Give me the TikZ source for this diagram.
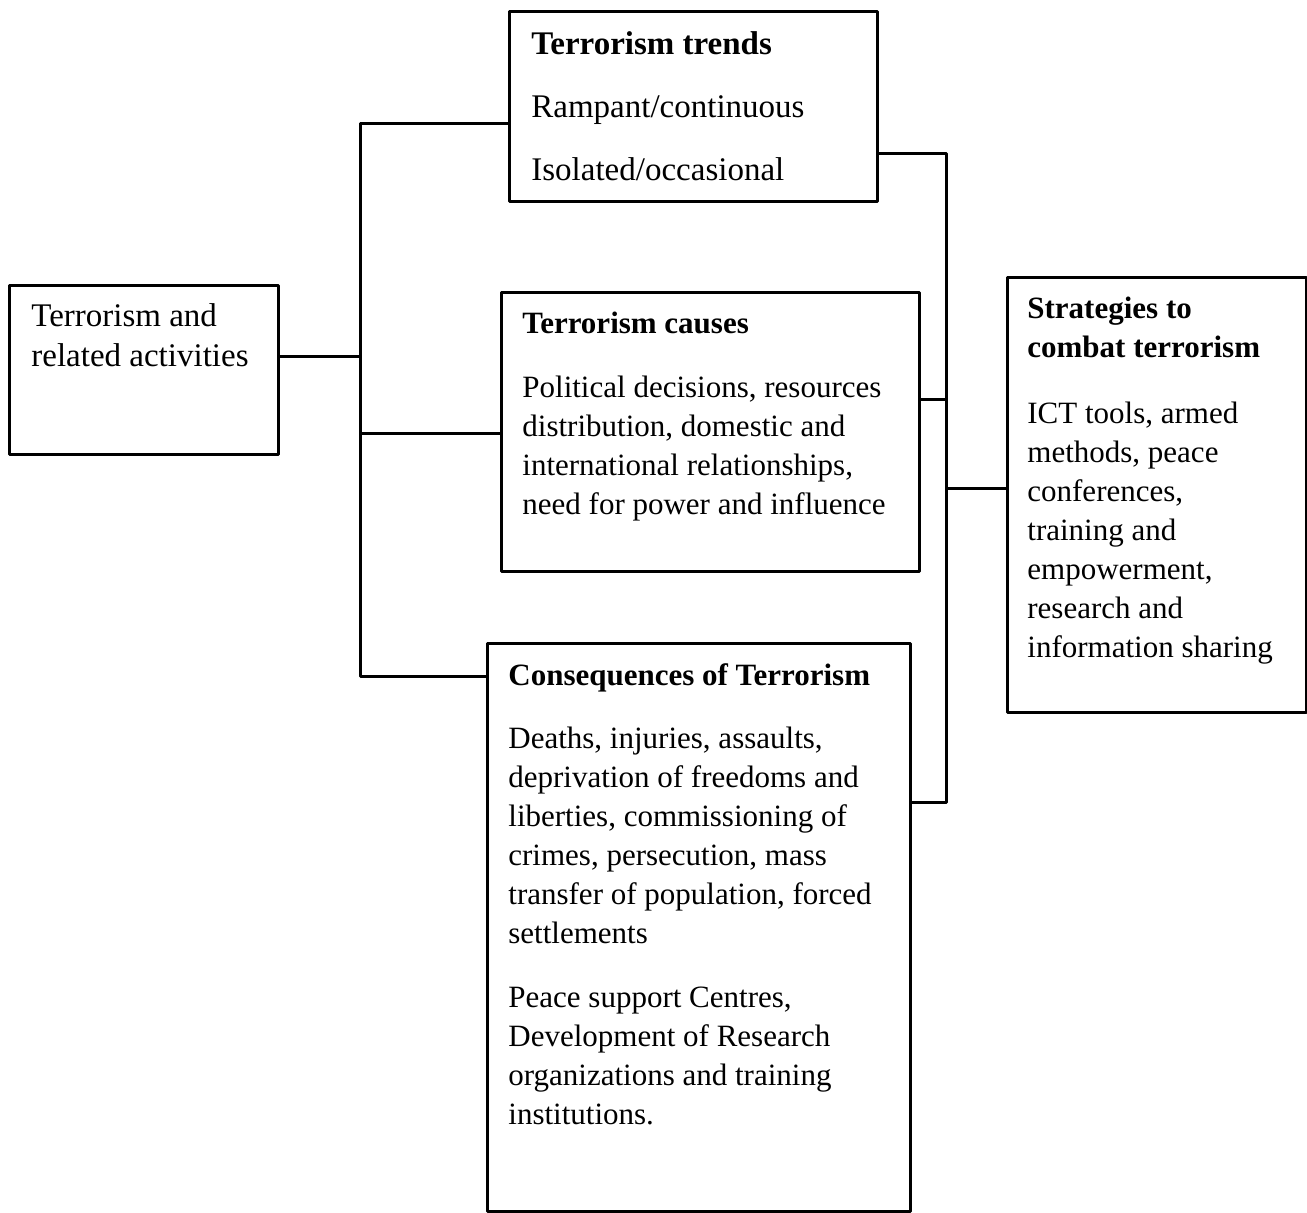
\documentclass[tikz,border=0pt]{standalone}
\usepackage{fontspec}
\setmainfont{Liberation Serif}
\begin{document}
\begin{tikzpicture}[x=0.5pt,y=-0.5pt,line join=round,
	panel/.style={draw,line width=1.6pt,anchor=north west,inner sep=0pt},
	copy/.style={anchor=north west,inner sep=0pt,align=left},
	wire/.style={line width=1.5pt}]
	\useasboundingbox (0,0) rectangle (1307,1213);
	% boxes
	\node[panel,minimum width=134.5pt,minimum height=84.5pt] (act) at (8,284) {};
	\node[panel,minimum width=184pt,minimum height=95pt] (trends) at (508,10) {};
	\node[panel,minimum width=209pt,minimum height=139.5pt] (causes) at (500,291) {};
	\node[panel,minimum width=211.5pt,minimum height=284pt] (conseq) at (486,642) {};
	\node[panel,minimum width=149.5pt,minimum height=217.5pt] (strat) at (1006,276) {};
	% texts
	\node[copy,font=\fontsize{16.5}{20}\selectfont] (acttxt) at (31,303) {Terrorism and\\related activities};
	\node[copy,font=\fontsize{16.5}{19.5}\selectfont] (trendstxt) at (531,31)
		{\textbf{Terrorism trends}\\[12pt]Rampant/continuous\\[12pt]Isolated/occasional};
	\node[copy,font=\fontsize{15.5}{19.5}\selectfont] (causestxt) at (522,312)
		{\textbf{Terrorism causes}\\[12.5pt]Political decisions, resources\\distribution, domestic and\\international relationships,\\need for power and influence};
	\node[copy,font=\fontsize{15.5}{19.5}\selectfont] (conseqtxt) at (508,663)
		{\textbf{Consequences of Terrorism}\\[12pt]Deaths, injuries, assaults,\\deprivation of freedoms and\\liberties, commissioning of\\crimes, persecution, mass\\transfer of population, forced\\settlements\\[12.5pt]Peace support Centres,\\Development of Research\\organizations and training\\institutions.};
	\node[copy,font=\fontsize{15.5}{19.5}\selectfont] (strattxt) at (1027,297)
		{\textbf{Strategies to}\\\textbf{combat terrorism}\\[13.5pt]ICT tools, armed\\methods, peace\\conferences,\\training and\\empowerment,\\research and\\information sharing};
	% left spine
	\coordinate (ltop) at (360,124);
	\coordinate (ljoin) at (360,357);
	\coordinate (lmid) at (360,434);
	\coordinate (lbot) at (360,677);
	\draw[wire] (ltop -| trends.west) -- (ltop) -- (lbot) -- (lbot -| conseq.west);
	\draw[wire] (act.east |- ljoin) -- (ljoin);
	\draw[wire] (lmid) -- (lmid -| causes.west);
	% right spine
	\coordinate (rtop) at (946,154);
	\coordinate (rtick) at (946,400);
	\coordinate (rmid) at (946,489);
	\coordinate (rbot) at (946,802);
	\draw[wire] (rtop -| trends.east) -- (rtop) -- (rbot) -- (rbot -| conseq.east);
	\draw[wire] (rtick -| causes.east) -- (rtick);
	\draw[wire] (rmid) -- (rmid -| strat.west);
\end{tikzpicture}
\end{document}
